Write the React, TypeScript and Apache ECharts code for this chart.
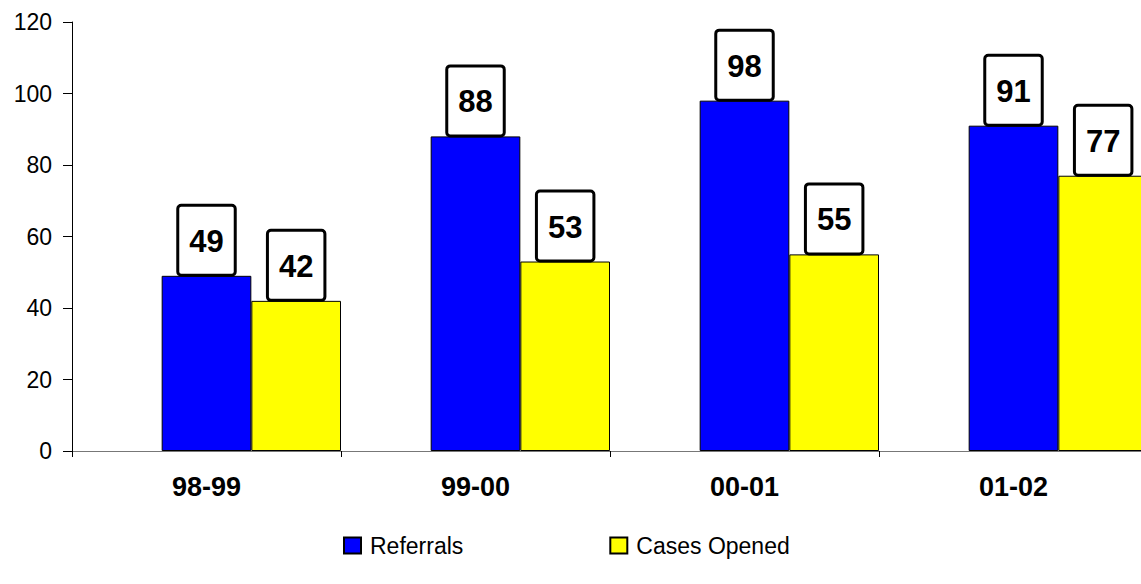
import React, { useEffect, useRef } from "react";
import * as echarts from "echarts";

const categories = ["98-99", "99-00", "00-01", "01-02"];
const referrals = [49, 88, 98, 91];
const casesOpened = [42, 53, 55, 77];
const seriesNames = ["Referrals", "Cases Opened"];
const spacer = ["-", "-", "-", "-"];

export default function App() {
  const ref = useRef<HTMLDivElement>(null);
  useEffect(() => {
    document.body.style.margin = "0";
    const chart = echarts.init(ref.current!, null, { renderer: "svg" });
    const label = {
      show: true,
      position: "top",
      distance: 2,
      color: "#000",
      fontFamily: "Liberation Sans, Arial, sans-serif",
      fontSize: 31,
      fontWeight: "bold",
      lineHeight: 31,
      backgroundColor: "#fff",
      borderColor: "#000",
      borderWidth: 3,
      borderRadius: 2,
      padding: [19, 10, 17, 10],
    };
    chart.setOption({
      animation: false,
      textStyle: { fontFamily: "Liberation Sans, Arial, sans-serif" },
      grid: { left: 72, top: 22, bottom: 133, right: 0, containLabel: false },
      legend: {
        top: 529,
        left: 338,
        itemWidth: 17,
        itemHeight: 16,
        itemGap: 146,
        icon: "rect",
        textStyle: { fontSize: 23, color: "#000", padding: [0, 0, 0, 4] },
        data: seriesNames,
      },
      xAxis: {
        type: "category",
        data: categories,
        axisLine: { lineStyle: { color: "#777", width: 1 } },
        axisTick: { show: true, length: 6, alignWithLabel: false, lineStyle: { color: "#000" } },
        axisLabel: { fontSize: 27, fontWeight: "bold", color: "#000", margin: 22 },
      },
      yAxis: {
        type: "value",
        min: 0,
        max: 120,
        interval: 20,
        splitLine: { show: false },
        axisLine: { show: true, lineStyle: { color: "#000", width: 1 } },
        axisTick: { show: true, length: 9, lineStyle: { color: "#000" } },
        axisLabel: { fontSize: 23, color: "#000", margin: 20 },
      },
      series: [
        {
          name: "spacer",
          type: "bar",
          data: spacer,
          barGap: "0%",
          barCategoryGap: "0%",
          itemStyle: { color: "transparent" },
          label: { show: false },
          silent: true,
        },
        {
          name: seriesNames[0],
          type: "bar",
          data: referrals,
          barGap: "0%",
          barCategoryGap: "0%",
          itemStyle: { color: "#0000ff", borderColor: "#000", borderWidth: 1 },
          label,
        },
        {
          name: seriesNames[1],
          type: "bar",
          data: casesOpened,
          barGap: "0%",
          barCategoryGap: "0%",
          itemStyle: { color: "#ffff00", borderColor: "#000", borderWidth: 1 },
          label,
        },
      ],
    });
    return () => chart.dispose();
  }, []);
  return (
    <div style={{ width: 1141, height: 584, overflow: "hidden" }}>
      <div ref={ref} style={{ width: 1148, height: 584 }} />
    </div>
  );
}
